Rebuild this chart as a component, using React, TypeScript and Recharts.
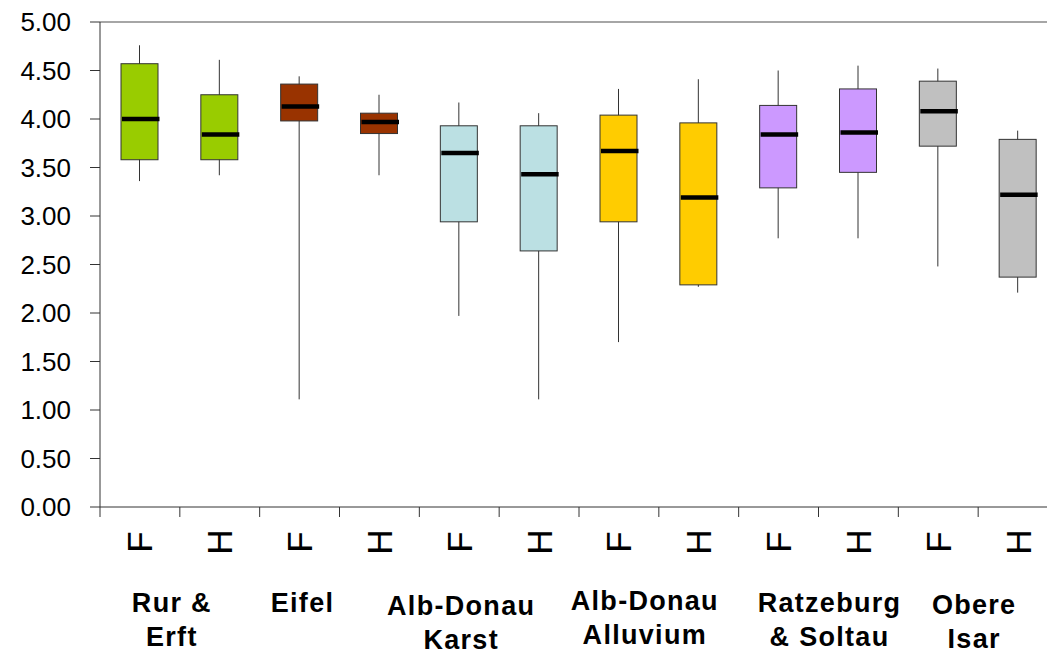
import { ComposedChart, Bar, XAxis, YAxis, ReferenceLine } from "recharts"

// one box per column: F and H for each region
const categories = ["F", "H", "F", "H", "F", "H", "F", "H", "F", "H", "F", "H"]
const groupLabels = [
  ["Rur &", "Erft"],
  ["Eifel"],
  ["Alb-Donau", "Karst"],
  ["Alb-Donau", "Alluvium"],
  ["Ratzeburg", "& Soltau"],
  ["Obere", "Isar"],
]
const groupColors = ["#99CC00", "#993300", "#BBE0E3", "#FFCC00", "#CC99FF", "#C0C0C0"]

const minValues = [3.36, 3.42, 1.11, 3.42, 1.97, 1.11, 1.70, 2.27, 2.77, 2.77, 2.48, 2.21]
const q1Values = [3.58, 3.58, 3.98, 3.85, 2.94, 2.64, 2.94, 2.29, 3.29, 3.45, 3.72, 2.37]
const medianValues = [4.00, 3.84, 4.13, 3.97, 3.65, 3.43, 3.67, 3.19, 3.84, 3.86, 4.08, 3.22]
const q3Values = [4.57, 4.25, 4.36, 4.06, 3.93, 3.93, 4.04, 3.96, 4.14, 4.31, 4.39, 3.79]
const maxValues = [4.76, 4.61, 4.44, 4.25, 4.17, 4.06, 4.31, 4.41, 4.50, 4.55, 4.52, 3.88]

const yTicks = [0, 0.5, 1, 1.5, 2, 2.5, 3, 3.5, 4, 4.5, 5]

// hand-placed label nudges (px), as in the original sheet
const labelNudge = [
  [-8, 0],
  [-37, 0],
  [-38, 3],
  [-14, -2],
  [11, 0],
  [-4, 2],
]

const data = categories.map((c, i) => ({
  id: String(i),
  name: c,
  min: minValues[i],
  q1: q1Values[i],
  median: medianValues[i],
  q3: q3Values[i],
  max: maxValues[i],
  fill: groupColors[Math.floor(i / 2)],
}))

const font = "'Liberation Sans', Arial, sans-serif"

function BoxShape(props: any) {
  const { x, y, width, height, payload } = props
  const top = Math.min(y, y + height)
  const h = Math.abs(height)
  const span = payload.max - payload.min
  const py = (v: number) => top + (h * (payload.max - v)) / span
  const cx = x + width / 2
  return (
    <g>
      <line x1={cx} x2={cx} y1={py(payload.max)} y2={py(payload.min)} stroke="#333" strokeWidth={1} />
      <rect
        x={x}
        y={py(payload.q3)}
        width={width}
        height={py(payload.q1) - py(payload.q3)}
        fill={payload.fill}
        stroke="#333"
        strokeWidth={1}
      />
      <line
        x1={x + 1}
        x2={x + width + 1.5}
        y1={py(payload.median)}
        y2={py(payload.median)}
        stroke="#000"
        strokeWidth={4.5}
      />
    </g>
  )
}

function XTick(props: any) {
  const { x, y, payload, index } = props
  const half = payload && payload.offset ? payload.offset : 40
  const ly = y + 35
  const g = Math.floor(index / 2)
  const lines = groupLabels[g]
  const [dx, dy] = labelNudge[g]
  return (
    <g>
      <line x1={x - half} x2={x - half} y1={y} y2={y + 10} stroke="#333" />
      {index === categories.length - 1 && (
        <line x1={x + half} x2={x + half} y1={y} y2={y + 10} stroke="#333" />
      )}
      <text
        x={x}
        y={ly}
        transform={`rotate(-90 ${x} ${ly})`}
        textAnchor="middle"
        dominantBaseline="central"
        fontSize={35}
        fontFamily={font}
        fill="#000"
      >
        {categories[index]}
      </text>
      {index % 2 === 0 &&
        lines.map((t, k) => (
          <text
            key={k}
            x={x + half + dx}
            y={y + 105 + dy + k * 34}
            textAnchor="middle"
            fontSize={27}
            fontWeight="bold"
            letterSpacing={1.3}
            fontFamily={font}
            fill="#000"
          >
            {t}
          </text>
        ))}
    </g>
  )
}

export default function App() {
  return (
    <div
      style={{
        position: "fixed",
        left: 0,
        top: 0,
        width: 1047,
        height: 655,
        overflow: "hidden",
        background: "#fff",
      }}
    >
      <ComposedChart width={1068} height={655} data={data} margin={{ top: 22, right: 10, bottom: 0, left: 0 }}>
        <ReferenceLine y={5} stroke="#888" strokeWidth={1.5} />
        <XAxis
          dataKey="id"
          interval={0}
          height={148}
          tickLine={false}
          tickSize={0}
          tickMargin={0}
          axisLine={{ stroke: "#333" }}
          tick={<XTick />}
        />
        <YAxis
          type="number"
          domain={[0, 5]}
          ticks={yTicks}
          interval={0}
          width={100}
          tickSize={10}
          tickMargin={19}
          tickFormatter={(v: number) => v.toFixed(2)}
          axisLine={{ stroke: "#333" }}
          tickLine={{ stroke: "#333" }}
          tick={{ fill: "#000", fontSize: 26, fontFamily: font }}
        />
        <Bar
          dataKey={(d: any) => [d.min, d.max]}
          barSize={37}
          shape={<BoxShape />}
          isAnimationActive={false}
        />
      </ComposedChart>
    </div>
  )
}
